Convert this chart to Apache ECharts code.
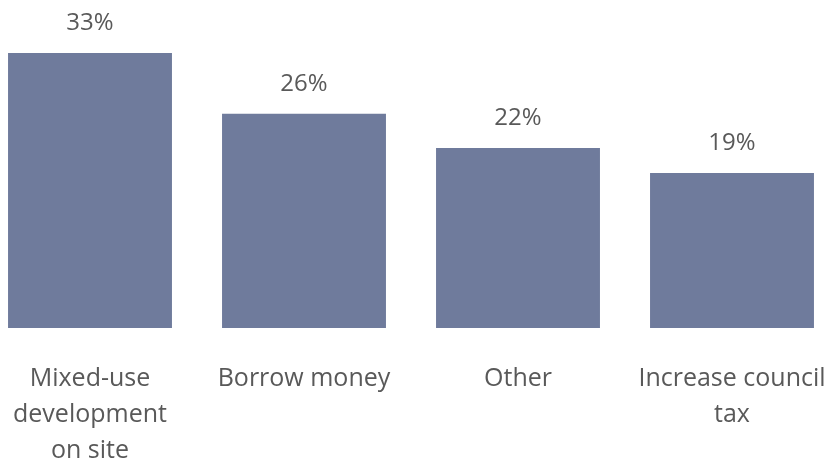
<!DOCTYPE html>
<html>
<head>
<meta charset="utf-8">
<script src="https://cdn.jsdelivr.net/npm/echarts@6/dist/echarts.min.js"></script>
<style>
html,body{margin:0;padding:0;background:#fff;overflow:hidden;}
#chart{width:856px;height:469px;margin-left:-17px;}
</style>
</head>
<body>
<div id="chart"></div>
<script>
var categories = ['Mixed-use\ndevelopment\non site', 'Borrow money', 'Other', 'Increase council\ntax'];
var values = [33, 25.7, 21.6, 18.6];

var chart = echarts.init(document.getElementById('chart'));
chart.setOption({
  animation: false,
  grid: { left: 0, right: 0, top: 53, height: 278 },
  xAxis: {
    type: 'category',
    data: categories,
    axisLine: { show: false },
    axisTick: { show: false },
    axisLabel: {
      interval: 0,
      margin: 33,
      color: '#595959',
      fontFamily: 'Open Sans',
      fontSize: 25,
      lineHeight: 36
    }
  },
  yAxis: {
    type: 'value',
    min: 0,
    max: 33,
    show: false,
    splitLine: { show: false }
  },
  series: [{
    type: 'bar',
    data: values,
    barCategoryGap: '23.4%',
    itemStyle: { color: '#6F7B9C' },
    label: {
      show: true,
      position: 'top',
      distance: 18,
      color: '#595959',
      fontFamily: 'Open Sans',
      fontSize: 24,
      formatter: function (p) { return Math.round(p.value) + '%'; }
    }
  }]
});
</script>
</body>
</html>
